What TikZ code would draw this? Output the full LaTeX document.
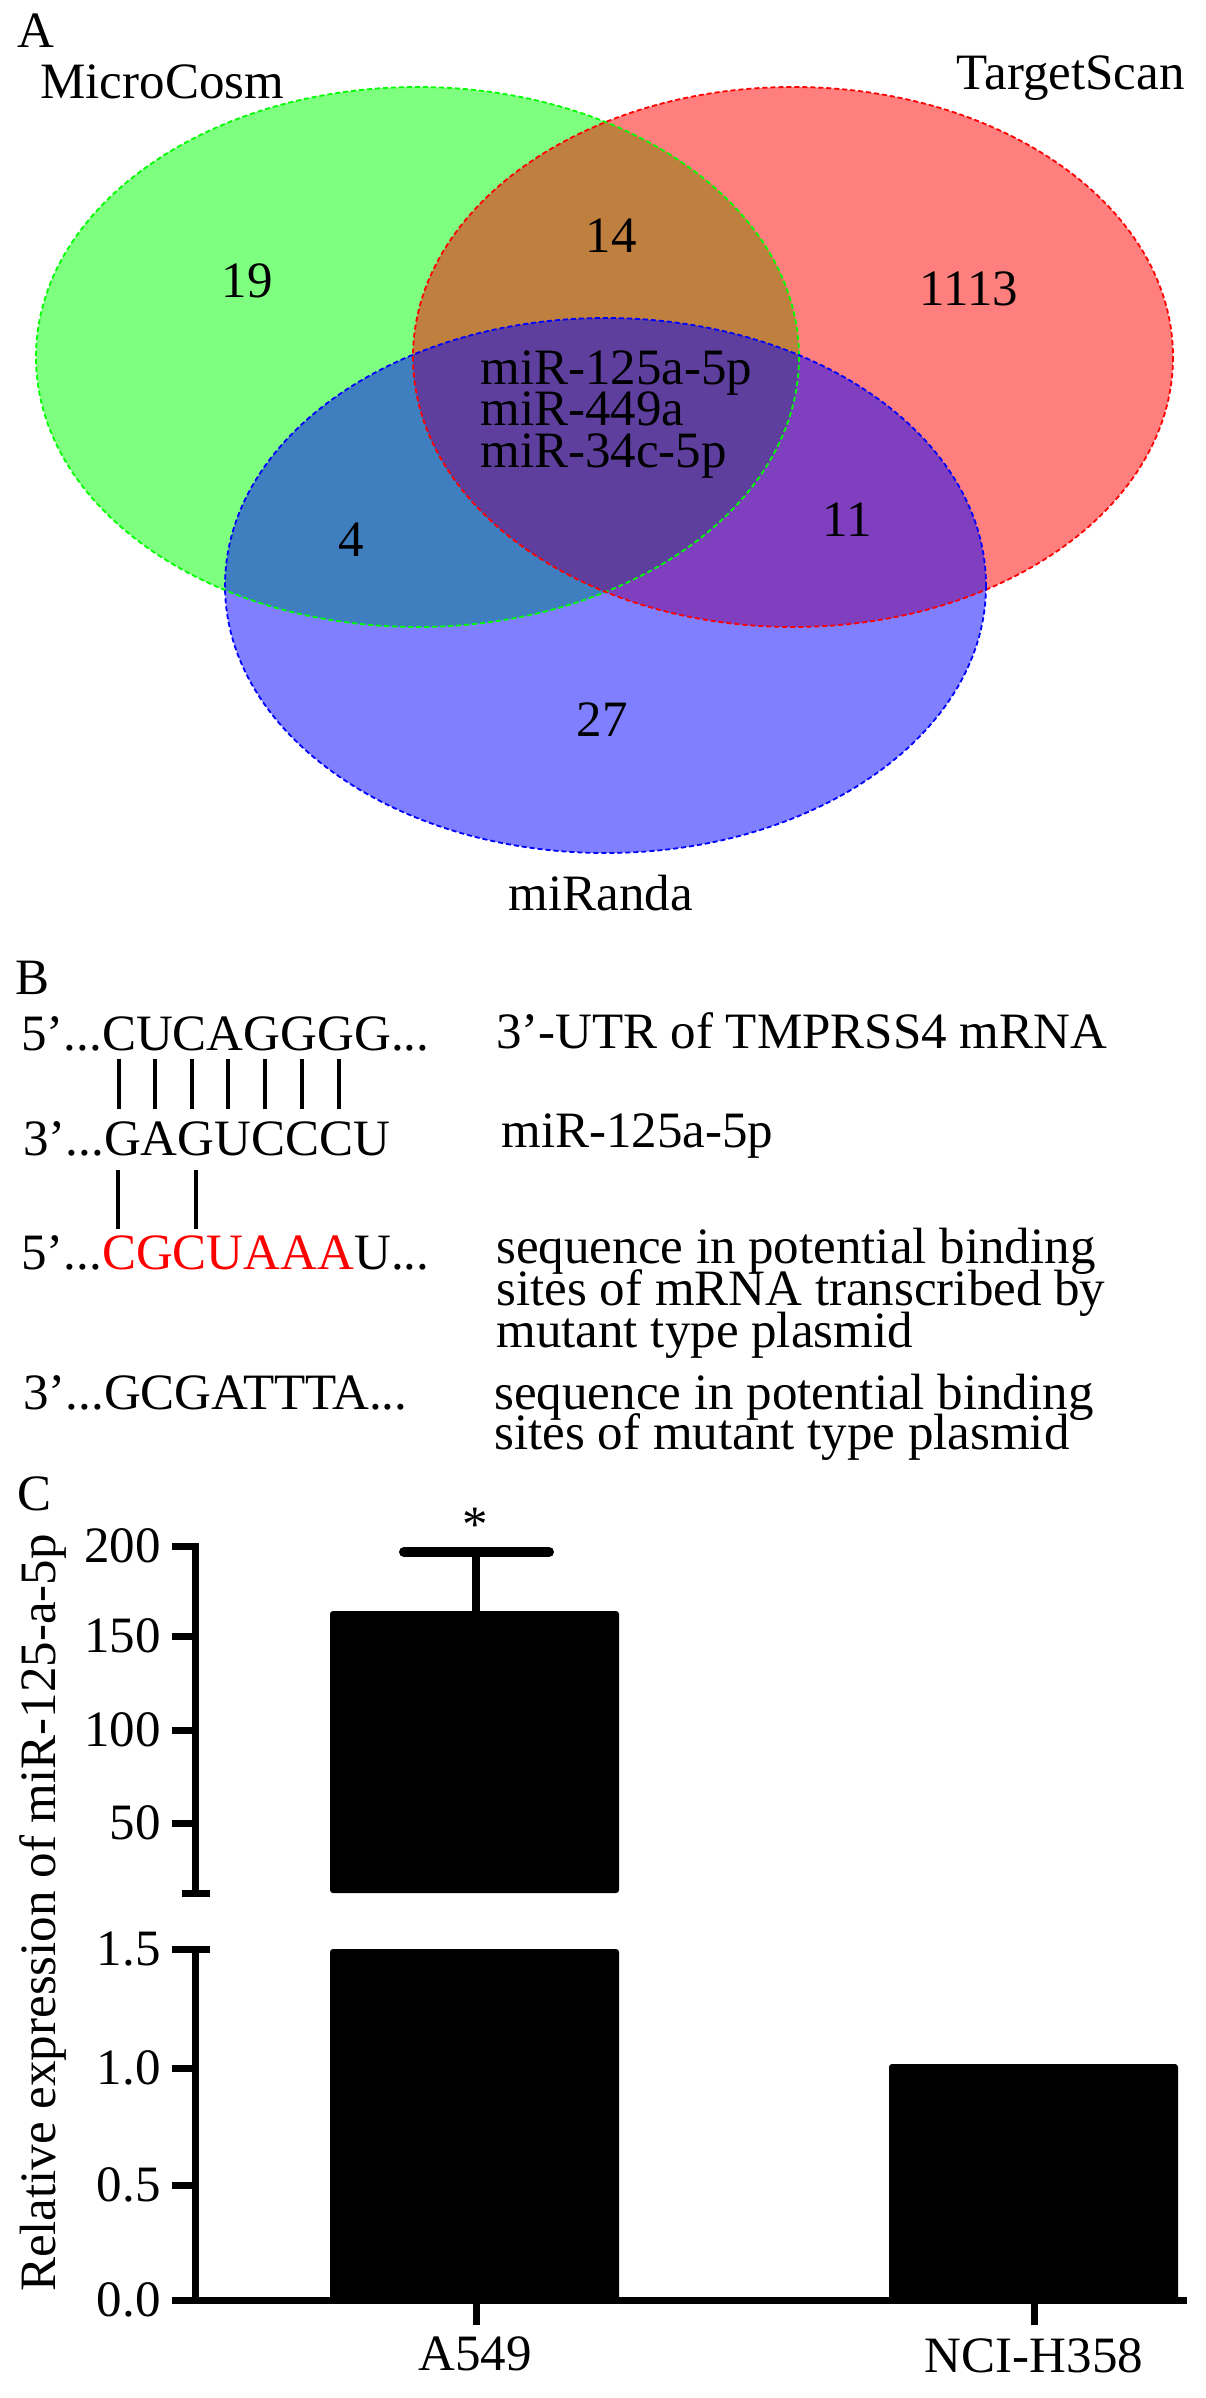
\documentclass[tikz,border=0pt]{standalone}
\usepackage{fontspec}
\setmainfont{Liberation Serif}
\usetikzlibrary{positioning}
\tikzset{
  txt/.style={font=\fontsize{25.5}{21}\selectfont, inner sep=0pt},
  vennfill/.style={fill opacity=0.5},
  vennline/.style={line width=0.9pt, dash pattern=on 2.5pt off 1.5pt},
  axis/.style={line width=3.5pt},
  bar/.style={fill=black, rounded corners=1.5pt},
  pair/.style={line width=2.2pt}
}
\begin{document}
\begin{tikzpicture}
[x=0.5pt, y=-0.5pt]
\useasboundingbox (0,0) rectangle (1205,2398);
% A
\fill [green, vennfill] (417.5,357) ellipse [x radius=381.5, y radius=270];
\fill [red, vennfill] (793,357) ellipse [x radius=380, y radius=270];
\fill [blue, vennfill] (605.5,585.5) ellipse [x radius=380.5, y radius=267.5];
\draw [green, vennline] (417.5,357) ellipse [x radius=381.5, y radius=270];
\draw [red, vennline] (793,357) ellipse [x radius=380, y radius=270];
\draw [blue, vennline] (605.5,585.5) ellipse [x radius=380.5, y radius=267.5];
\node [txt, anchor=base west] (labA) at (17,48) {A};
\node [txt, anchor=base west] (microcosm) at (40,98) {MicroCosm};
\node [txt, anchor=base east] (targetscan) at (1185,90) {TargetScan};
\node [txt, anchor=base] (miranda) at (601,910) {miRanda};
\node [txt] (only19) at (247,281) {19};
\node [txt] (mt14) at (611,236) {14};
\node [txt] (only1113) at (969,289) {1113};
\node [txt] (mr4) at (351,540) {4};
\node [txt] (tr11) at (847,520) {11};
\node [txt] (only27) at (602,720) {27};
\node [txt, anchor=base west] (core1) at (480,384) {miR-125a-5p};
\node [txt, anchor=base west] (core2) at (480,425) {miR-449a};
\node [txt, anchor=base west] (core3) at (480,467) {miR-34c-5p};
% B
\node [txt, anchor=base west] (labB) at (15,994) {B};
\node [txt, anchor=base west] (seq1) at (21,1050) {5’...CUCAGGGG...};
\node [txt, anchor=base west] (seq2) at (23,1155) {3’...GAGUCCCU};
\node [txt, anchor=base west] (seq3) at (21,1269) {5’...\textcolor{red}{CGCUAAA}U...};
\node [txt, anchor=base west] (seq4) at (23,1409) {3’...GCGATTTA...};
\node [txt, anchor=base west] (utr) at (496,1048) {3’-UTR of TMPRSS4 mRNA};
\node [txt, anchor=base west] (mir) at (501,1147) {miR-125a-5p};
\node [txt, anchor=base west] (mutrna1) at (496,1263) {sequence in potential binding};
\node [txt, anchor=base west] (mutrna2) at (496,1305) {sites of mRNA transcribed by};
\node [txt, anchor=base west] (mutrna3) at (496,1347) {mutant type plasmid};
\node [txt, anchor=base west] (mutdna1) at (494,1409) {sequence in potential binding};
\node [txt, anchor=base west] (mutdna2) at (494,1449) {sites of mutant type plasmid};
\draw [pair] (119,1059) -- (119,1109);
\draw [pair] (155,1059) -- (155,1109);
\draw [pair] (192,1059) -- (192,1109);
\draw [pair] (228,1059) -- (228,1109);
\draw [pair] (265,1059) -- (265,1109);
\draw [pair] (302,1059) -- (302,1109);
\draw [pair] (339,1059) -- (339,1109);
\draw [pair] (118,1170) -- (118,1229);
\draw [pair] (196,1170) -- (196,1229);
% C
\node [txt, anchor=base west] (labC) at (17,1510) {C};
\fill [bar] (330,1611) rectangle (619,1893);
\fill [bar] (330,1949) rectangle (619,2300);
\fill [bar] (889,2064) rectangle (1178,2300);
\draw [line width=4pt] (476,1611) -- (476,1552);
\draw [line width=5pt, line cap=round] (404,1552) -- (549,1552);
\node [txt, anchor=base] (star) at (475,1541) {*};
\draw [axis] (172,1546) -- (195,1546) -- (195,1893);
\draw [axis] (182,1893) -- (210,1893);
\draw [axis] (172,1636) -- (195,1636);
\draw [axis] (172,1730) -- (195,1730);
\draw [axis] (172,1823) -- (195,1823);
\draw [axis] (172,1949) -- (210,1949);
\draw [axis] (195,1949) -- (195,2300);
\draw [axis] (172,2068) -- (195,2068);
\draw [axis] (172,2185) -- (195,2185);
\draw [axis] (172,2300) -- (1187,2300);
\draw [axis] (476,2300) -- (476,2325);
\draw [axis] (1034,2300) -- (1034,2325);
\node [txt, anchor=east] (t200) at (161,1546) {200};
\node [txt, anchor=east] (t150) at (161,1636) {150};
\node [txt, anchor=east] (t100) at (161,1730) {100};
\node [txt, anchor=east] (t50) at (161,1823) {50};
\node [txt, anchor=east] (t15) at (161,1949) {1.5};
\node [txt, anchor=east] (t10) at (161,2068) {1.0};
\node [txt, anchor=east] (t05) at (161,2185) {0.5};
\node [txt, anchor=east] (t00) at (161,2300) {0.0};
\node [txt, anchor=base, rotate=90] (ylab) at (55,1913) {Relative expression of miR-125-a-5p};
\node [txt, anchor=base] (xa549) at (475,2370) {A549};
\node [txt, anchor=base] (xnci) at (1034,2372) {NCI-H358};
\end{tikzpicture}
\end{document}
